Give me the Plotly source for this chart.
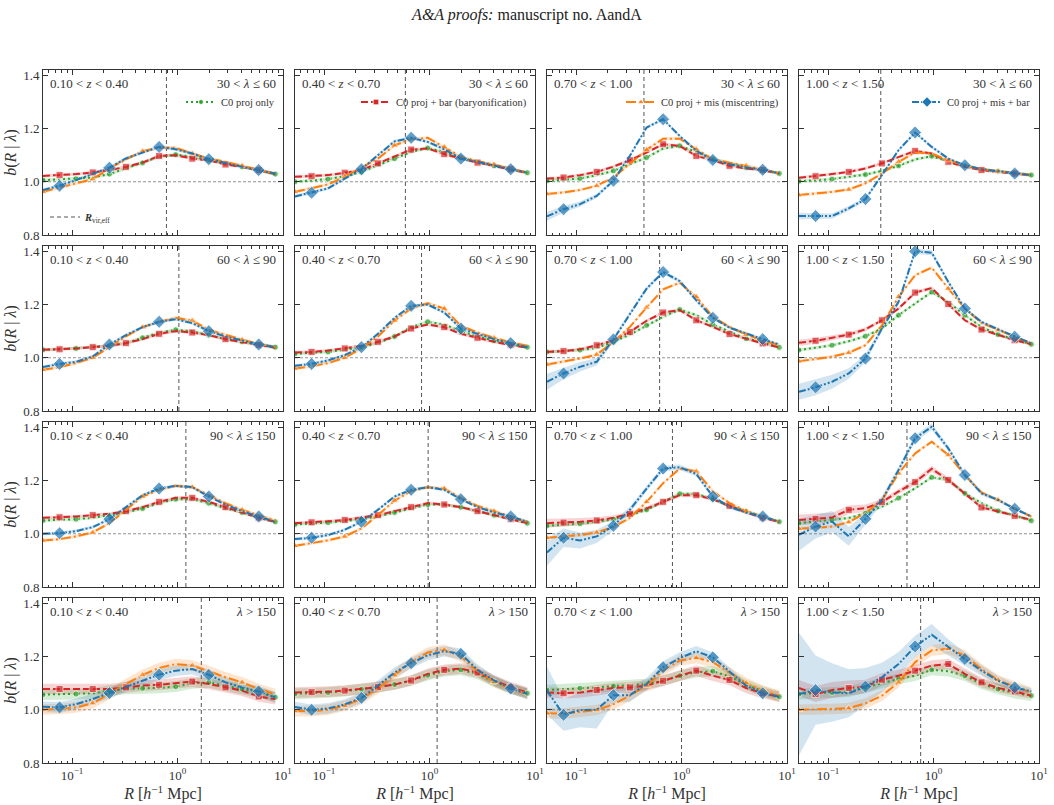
import plotly.graph_objects as go
from plotly.subplots import make_subplots
import math

# ---------------- data ----------------
R = [0.053, 0.0761, 0.109, 0.157, 0.226, 0.324, 0.466, 0.669, 0.961, 1.38, 1.98, 2.85, 4.09, 5.88, 8.45]

z_labels = ["0.10 < <i>z</i> < 0.40", "0.40 < <i>z</i> < 0.70", "0.70 < <i>z</i> < 1.00", "1.00 < <i>z</i> < 1.50"]
lam_labels = ["30 < <i>λ</i> ≤ 60", "60 < <i>λ</i> ≤ 90", "90 < <i>λ</i> ≤ 150", "<i>λ</i> > 150"]

# effective virial radius per (richness row, redshift column)
rvir_row1 = [0.785, 0.59, 0.44, 0.316]
rvir_row2 = [1.03, 0.84, 0.62, 0.40]
rvir_row3 = [1.2, 0.97, 0.82, 0.56]
rvir_row4 = [1.68, 1.18, 1.0, 0.755]

# row 1 (30 < lambda <= 60)
green_11 = [1.006, 1.009, 1.011, 1.016, 1.029, 1.05, 1.071, 1.094, 1.102, 1.094, 1.081, 1.069, 1.056, 1.044, 1.029]
red_11 = [1.022, 1.025, 1.029, 1.035, 1.044, 1.056, 1.072, 1.097, 1.1, 1.087, 1.081, 1.065, 1.056, 1.044, 1.029]
orange_11 = [0.962, 0.977, 0.994, 1.01, 1.05, 1.084, 1.115, 1.128, 1.128, 1.106, 1.087, 1.075, 1.06, 1.044, 1.03]
blue_11 = [0.969, 0.985, 1.006, 1.03, 1.053, 1.088, 1.11, 1.131, 1.122, 1.106, 1.085, 1.07, 1.056, 1.044, 1.03]

green_12 = [1.0, 1.006, 1.01, 1.021, 1.037, 1.062, 1.087, 1.112, 1.127, 1.112, 1.09, 1.075, 1.06, 1.046, 1.034]
red_12 = [1.019, 1.021, 1.025, 1.034, 1.044, 1.069, 1.094, 1.121, 1.125, 1.104, 1.087, 1.072, 1.059, 1.047, 1.034]
orange_12 = [0.962, 0.975, 0.99, 1.019, 1.052, 1.087, 1.137, 1.16, 1.165, 1.131, 1.094, 1.077, 1.065, 1.05, 1.034]
blue_12 = [0.945, 0.959, 0.975, 1.012, 1.047, 1.1, 1.152, 1.165, 1.15, 1.122, 1.087, 1.075, 1.062, 1.047, 1.034]

green_13 = [1.004, 1.007, 1.012, 1.025, 1.041, 1.066, 1.091, 1.125, 1.135, 1.112, 1.085, 1.069, 1.054, 1.045, 1.031]
red_13 = [1.012, 1.016, 1.025, 1.037, 1.057, 1.081, 1.11, 1.141, 1.135, 1.097, 1.081, 1.06, 1.05, 1.044, 1.031]
orange_13 = [0.954, 0.96, 0.969, 0.985, 1.016, 1.066, 1.12, 1.162, 1.162, 1.122, 1.085, 1.072, 1.06, 1.047, 1.032]
blue_13 = [0.87, 0.897, 0.916, 0.947, 1.004, 1.098, 1.204, 1.235, 1.172, 1.116, 1.082, 1.066, 1.054, 1.045, 1.032]

green_14 = [1.002, 1.006, 1.01, 1.019, 1.027, 1.041, 1.06, 1.084, 1.096, 1.077, 1.06, 1.047, 1.04, 1.034, 1.025]
red_14 = [1.015, 1.021, 1.029, 1.037, 1.05, 1.069, 1.094, 1.116, 1.106, 1.075, 1.056, 1.044, 1.037, 1.031, 1.025]
orange_14 = [0.95, 0.956, 0.962, 0.971, 0.994, 1.031, 1.075, 1.11, 1.106, 1.081, 1.062, 1.047, 1.04, 1.031, 1.025]
blue_14 = [0.871, 0.871, 0.871, 0.9, 0.935, 1.025, 1.119, 1.185, 1.131, 1.087, 1.062, 1.047, 1.04, 1.031, 1.025]

# row 2 (60 < lambda <= 90)
green_21 = [1.03, 1.032, 1.035, 1.04, 1.045, 1.055, 1.075, 1.095, 1.105, 1.1, 1.085, 1.07, 1.06, 1.05, 1.04]
red_21 = [1.03, 1.032, 1.035, 1.04, 1.045, 1.055, 1.07, 1.09, 1.1, 1.095, 1.085, 1.07, 1.06, 1.048, 1.038]
orange_21 = [0.955, 0.965, 0.98, 1.0, 1.04, 1.08, 1.115, 1.135, 1.15, 1.14, 1.105, 1.085, 1.068, 1.052, 1.04]
blue_21 = [0.965, 0.977, 0.985, 1.005, 1.05, 1.085, 1.115, 1.135, 1.145, 1.13, 1.1, 1.08, 1.065, 1.05, 1.04]

green_22 = [1.015, 1.018, 1.022, 1.03, 1.04, 1.055, 1.08, 1.115, 1.135, 1.125, 1.1, 1.08, 1.065, 1.05, 1.04]
red_22 = [1.02, 1.022, 1.027, 1.035, 1.045, 1.06, 1.08, 1.11, 1.125, 1.115, 1.09, 1.075, 1.06, 1.048, 1.038]
orange_22 = [0.96, 0.968, 0.98, 1.0, 1.035, 1.08, 1.14, 1.185, 1.205, 1.185, 1.12, 1.095, 1.075, 1.058, 1.045]
blue_22 = [0.97, 0.977, 0.99, 1.01, 1.04, 1.09, 1.15, 1.195, 1.2, 1.17, 1.11, 1.09, 1.07, 1.055, 1.04]

green_23 = [1.022, 1.025, 1.029, 1.037, 1.06, 1.087, 1.122, 1.154, 1.181, 1.16, 1.125, 1.097, 1.072, 1.06, 1.039]
red_23 = [1.022, 1.025, 1.032, 1.047, 1.066, 1.097, 1.139, 1.17, 1.179, 1.141, 1.116, 1.089, 1.072, 1.054, 1.039]
orange_23 = [0.975, 0.985, 0.997, 1.012, 1.06, 1.116, 1.189, 1.257, 1.282, 1.229, 1.154, 1.116, 1.087, 1.066, 1.047]
blue_23 = [0.91, 0.941, 0.966, 0.985, 1.069, 1.166, 1.26, 1.322, 1.288, 1.216, 1.15, 1.113, 1.091, 1.07, 1.05]

green_24 = [1.029, 1.037, 1.047, 1.062, 1.081, 1.11, 1.16, 1.204, 1.247, 1.21, 1.16, 1.116, 1.087, 1.07, 1.051]
red_24 = [1.056, 1.064, 1.075, 1.087, 1.107, 1.141, 1.185, 1.245, 1.262, 1.202, 1.141, 1.106, 1.087, 1.066, 1.051]
orange_24 = [0.987, 0.995, 1.004, 1.019, 1.047, 1.122, 1.229, 1.31, 1.339, 1.26, 1.185, 1.131, 1.104, 1.079, 1.054]
blue_24 = [0.872, 0.889, 0.91, 0.941, 0.997, 1.11, 1.21, 1.40, 1.395, 1.285, 1.185, 1.135, 1.107, 1.079, 1.054]

# row 3 (90 < lambda <= 150)
green_31 = [1.05, 1.052, 1.055, 1.06, 1.07, 1.08, 1.095, 1.115, 1.13, 1.13, 1.115, 1.095, 1.08, 1.06, 1.045]
red_31 = [1.06, 1.062, 1.065, 1.07, 1.075, 1.085, 1.1, 1.12, 1.135, 1.135, 1.12, 1.1, 1.08, 1.06, 1.045]
orange_31 = [0.975, 0.98, 0.99, 1.005, 1.04, 1.09, 1.14, 1.165, 1.18, 1.175, 1.145, 1.115, 1.09, 1.07, 1.05]
blue_31 = [1.0, 1.002, 1.01, 1.025, 1.055, 1.1, 1.145, 1.17, 1.18, 1.175, 1.14, 1.11, 1.085, 1.065, 1.045]

green_32 = [1.035, 1.038, 1.042, 1.048, 1.055, 1.065, 1.08, 1.095, 1.11, 1.11, 1.1, 1.085, 1.07, 1.055, 1.04]
red_32 = [1.04, 1.043, 1.047, 1.052, 1.06, 1.07, 1.085, 1.1, 1.115, 1.11, 1.1, 1.085, 1.07, 1.055, 1.04]
orange_32 = [0.955, 0.965, 0.975, 0.99, 1.02, 1.07, 1.125, 1.16, 1.175, 1.17, 1.135, 1.105, 1.085, 1.065, 1.045]
blue_32 = [0.98, 0.985, 0.995, 1.015, 1.045, 1.09, 1.14, 1.165, 1.175, 1.165, 1.13, 1.1, 1.08, 1.065, 1.045]

green_33 = [1.03, 1.033, 1.038, 1.045, 1.055, 1.07, 1.09, 1.12, 1.15, 1.15, 1.13, 1.105, 1.085, 1.065, 1.045]
red_33 = [1.04, 1.042, 1.045, 1.05, 1.06, 1.075, 1.095, 1.12, 1.145, 1.145, 1.13, 1.105, 1.08, 1.06, 1.045]
orange_33 = [0.985, 0.99, 0.995, 1.005, 1.025, 1.06, 1.12, 1.19, 1.245, 1.235, 1.16, 1.115, 1.085, 1.065, 1.045]
blue_33 = [0.93, 0.985, 0.975, 0.99, 1.03, 1.09, 1.17, 1.245, 1.25, 1.225, 1.14, 1.1, 1.08, 1.065, 1.045]

green_34 = [1.04, 1.046, 1.052, 1.059, 1.077, 1.102, 1.134, 1.171, 1.212, 1.202, 1.152, 1.115, 1.086, 1.069, 1.049]
red_34 = [1.052, 1.056, 1.061, 1.09, 1.096, 1.119, 1.159, 1.194, 1.244, 1.202, 1.152, 1.099, 1.084, 1.067, 1.052]
orange_34 = [1.019, 1.024, 1.027, 1.044, 1.077, 1.127, 1.227, 1.302, 1.346, 1.296, 1.221, 1.155, 1.127, 1.094, 1.065]
blue_34 = [0.996, 1.027, 1.046, 0.99, 1.056, 1.127, 1.24, 1.359, 1.402, 1.321, 1.221, 1.152, 1.127, 1.094, 1.065]

# row 4 (lambda > 150)
green_41 = [1.057, 1.059, 1.059, 1.062, 1.072, 1.078, 1.081, 1.082, 1.087, 1.099, 1.103, 1.091, 1.078, 1.065, 1.047]
red_41 = [1.078, 1.078, 1.078, 1.078, 1.078, 1.084, 1.091, 1.094, 1.099, 1.106, 1.097, 1.084, 1.072, 1.05, 1.04]
orange_41 = [1.001, 1.003, 1.009, 1.025, 1.059, 1.097, 1.131, 1.157, 1.172, 1.166, 1.145, 1.122, 1.103, 1.078, 1.059]
blue_41 = [1.011, 1.009, 1.021, 1.04, 1.063, 1.087, 1.109, 1.132, 1.147, 1.153, 1.131, 1.103, 1.084, 1.069, 1.047]

green_42 = [1.06, 1.062, 1.065, 1.07, 1.077, 1.085, 1.095, 1.11, 1.13, 1.145, 1.15, 1.135, 1.105, 1.08, 1.062]
red_42 = [1.065, 1.066, 1.068, 1.072, 1.078, 1.085, 1.095, 1.11, 1.135, 1.15, 1.155, 1.14, 1.11, 1.085, 1.065]
orange_42 = [0.995, 0.995, 1.0, 1.015, 1.04, 1.08, 1.13, 1.18, 1.215, 1.225, 1.2, 1.145, 1.105, 1.08, 1.06]
blue_42 = [1.01, 1.0, 1.005, 1.02, 1.045, 1.09, 1.14, 1.175, 1.205, 1.22, 1.21, 1.15, 1.11, 1.08, 1.06]

green_43 = [1.074, 1.077, 1.081, 1.084, 1.089, 1.094, 1.097, 1.109, 1.128, 1.141, 1.145, 1.125, 1.094, 1.069, 1.049]
red_43 = [1.065, 1.062, 1.065, 1.074, 1.082, 1.084, 1.091, 1.109, 1.128, 1.147, 1.128, 1.112, 1.082, 1.062, 1.049]
orange_43 = [0.987, 0.986, 0.992, 0.999, 1.021, 1.053, 1.091, 1.147, 1.185, 1.195, 1.179, 1.141, 1.101, 1.072, 1.053]
blue_43 = [1.072, 0.981, 0.999, 1.0, 1.055, 1.055, 1.097, 1.16, 1.194, 1.22, 1.197, 1.145, 1.091, 1.062, 1.049]

green_44 = [1.059, 1.062, 1.065, 1.068, 1.084, 1.099, 1.116, 1.128, 1.15, 1.145, 1.128, 1.097, 1.078, 1.062, 1.053]
red_44 = [1.082, 1.059, 1.074, 1.082, 1.087, 1.113, 1.128, 1.147, 1.166, 1.172, 1.135, 1.103, 1.082, 1.069, 1.053]
orange_44 = [1.0, 1.001, 1.003, 1.006, 1.024, 1.053, 1.103, 1.179, 1.223, 1.229, 1.204, 1.153, 1.112, 1.087, 1.065]
blue_44 = [1.059, 1.074, 1.065, 1.062, 1.087, 1.122, 1.172, 1.238, 1.282, 1.235, 1.191, 1.147, 1.109, 1.084, 1.069]

# half-widths of the shaded uncertainty bands (explicit where visibly wide)
err_thin = 0.006
err_row4 = 0.02
err_13_blue = [0.016, 0.013, 0.01, 0.008, 0.007, 0.006, 0.006, 0.006, 0.006, 0.006, 0.005, 0.005, 0.005, 0.005, 0.005]
err_14_blue = [0.013, 0.011, 0.01, 0.009, 0.008, 0.007, 0.006, 0.006, 0.006, 0.006, 0.005, 0.005, 0.005, 0.005, 0.005]
err_23_blue = [0.03, 0.022, 0.018, 0.014, 0.01, 0.008, 0.008, 0.008, 0.007, 0.007, 0.006, 0.006, 0.005, 0.005, 0.005]
err_24_blue = [0.03, 0.03, 0.026, 0.02, 0.015, 0.01, 0.01, 0.01, 0.01, 0.008, 0.007, 0.006, 0.006, 0.005, 0.005]
err_24_red = [0.012, 0.011, 0.01, 0.009, 0.008, 0.007, 0.007, 0.007, 0.007, 0.006, 0.006, 0.005, 0.005, 0.005, 0.005]
err_33_blue = [0.05, 0.035, 0.03, 0.025, 0.018, 0.012, 0.01, 0.01, 0.01, 0.009, 0.008, 0.007, 0.006, 0.006, 0.005]
err_33_red = [0.016, 0.015, 0.014, 0.012, 0.01, 0.008, 0.008, 0.008, 0.008, 0.007, 0.007, 0.006, 0.006, 0.005, 0.005]
err_34_blue = [0.06, 0.045, 0.04, 0.035, 0.022, 0.015, 0.012, 0.012, 0.012, 0.01, 0.009, 0.008, 0.007, 0.006, 0.006]
err_34_red = [0.02, 0.02, 0.018, 0.016, 0.014, 0.012, 0.01, 0.012, 0.012, 0.01, 0.008, 0.007, 0.006, 0.006, 0.005]
err_43_blue = [0.09, 0.06, 0.065, 0.07, 0.03, 0.025, 0.022, 0.022, 0.022, 0.02, 0.018, 0.015, 0.012, 0.01, 0.008]
err_44_blue = [0.23, 0.13, 0.11, 0.09, 0.07, 0.055, 0.045, 0.04, 0.04, 0.03, 0.025, 0.02, 0.018, 0.015, 0.012]
err_44_red = [0.03, 0.03, 0.03, 0.028, 0.026, 0.024, 0.022, 0.022, 0.02, 0.02, 0.02, 0.018, 0.016, 0.015, 0.012]

# ---------------- assembly ----------------
g = globals()
rvir_rows = [rvir_row1, rvir_row2, rvir_row3, rvir_row4]

SERIES = [
    # key, label, color, dash, symbol, marker size, marker indices
    ("green", "C0 proj only", "#2ca02c", "2px,3px", "circle", 6, [0, 2, 4, 6, 8, 10, 12, 14]),
    ("red", "C0 proj + bar (baryonification)", "#d62728", "7px,3px", "square", 7, [1, 3, 5, 7, 9, 11, 13]),
    ("orange", "C0 proj + mis (miscentring)", "#ff7f0e", "10px,3px,2px,3px", "triangle-up", 7, [0, 3, 6, 9, 12]),
    ("blue", "C0 proj + mis + bar", "#1f77b4", "7px,2px,2px,2px,2px,2px", "diamond", 10, [1, 4, 7, 10, 13]),
]


def rgba(hexc, a):
    h = hexc.lstrip("#")
    return "rgba(%d,%d,%d,%.2f)" % (int(h[0:2], 16), int(h[2:4], 16), int(h[4:6], 16), a)


FONT = "Liberation Serif, Times New Roman, serif"
TXT = "#333333"

fig = make_subplots(rows=4, cols=4, horizontal_spacing=12 / 996, vertical_spacing=11 / 693)

for r in range(1, 5):
    for c in range(1, 5):
        # reference lines
        rv = rvir_rows[r - 1][c - 1]
        fig.add_trace(go.Scatter(x=[rv, rv], y=[0.8, 1.42], mode="lines",
                                 line=dict(color="#555555", width=1, dash="4px,3px"),
                                 name="<b><i>R</i></b><sub>vir,eff</sub>",
                                 legend="legend5", showlegend=(r == 1 and c == 1),
                                 hoverinfo="skip"), row=r, col=c)
        fig.add_trace(go.Scatter(x=[R[0], 10], y=[1.0, 1.0], mode="lines",
                                 line=dict(color="#777777", width=0.8, dash="3px,2px"),
                                 showlegend=False, hoverinfo="skip"), row=r, col=c)
        for key, label, color, dash, sym, msz, midx in SERIES:
            y = g["%s_%d%d" % (key, r, c)]
            ename = "err_%d%d_%s" % (r, c, key)
            if ename in g:
                e = g[ename]
            else:
                e = [err_row4 if r == 4 else err_thin] * len(y)
            lo = [a - b for a, b in zip(y, e)]
            hi = [a + b for a, b in zip(y, e)]
            fig.add_trace(go.Scatter(x=R + R[::-1], y=hi + lo[::-1], fill="toself",
                                     fillcolor=rgba(color, 0.2), line=dict(width=0),
                                     mode="lines", showlegend=False, hoverinfo="skip"),
                          row=r, col=c)
        for key, label, color, dash, sym, msz, midx in SERIES:
            y = g["%s_%d%d" % (key, r, c)]
            sizes = [msz if i in midx else 0 for i in range(len(y))]
            fig.add_trace(go.Scatter(x=R, y=y, mode="lines+markers",
                                     line=dict(color=color, width=2, dash=dash),
                                     marker=dict(symbol=sym, size=sizes, color=color,
                                                 line=dict(color="white", width=0.8)),
                                     showlegend=False, name=label),
                          row=r, col=c)

# legend entries (one per top-row panel)
for k, (key, label, color, dash, sym, msz, midx) in enumerate(SERIES):
    fig.add_trace(go.Scatter(x=[None], y=[None], mode="lines+markers",
                             line=dict(color=color, width=2, dash=dash),
                             marker=dict(symbol=sym, size=msz * 0.8, color=color,
                                         line=dict(color="white", width=0.8)),
                             name=label, legend="legend" if k == 0 else "legend%d" % (k + 1)),
                  row=1, col=k + 1)

# axes
for r in range(1, 5):
    for c in range(1, 5):
        xkw = dict(type="log", range=[math.log10(0.053), 1],
                   tickvals=[0.1, 1, 10],
                   ticktext=["10<sup>−1</sup>", "10<sup>0</sup>", "10<sup>1</sup>"],
                   showticklabels=(r == 4), ticks="inside", ticklen=5, tickcolor=TXT,
                   minor=dict(ticks="inside", ticklen=2.5, dtick="D1", tickcolor=TXT),
                   mirror="allticks", showline=True, linecolor=TXT, linewidth=1,
                   showgrid=False, zeroline=False,
                   tickfont=dict(family=FONT, size=13, color=TXT), automargin=False)
        if r == 4:
            xkw["title"] = dict(text="<i>R</i> [<i>h</i><sup>−1</sup> Mpc]",
                                font=dict(family=FONT, size=16, color=TXT), standoff=4)
        fig.update_xaxes(row=r, col=c, **xkw)
        ykw = dict(range=[0.8, 1.42], tickvals=[0.8, 1.0, 1.2, 1.4],
                   ticktext=["0.8", "1.0", "1.2", "1.4"],
                   showticklabels=(c == 1), ticks="inside", ticklen=5, tickcolor=TXT,
                   mirror="allticks", showline=True, linecolor=TXT, linewidth=1,
                   showgrid=False, zeroline=False,
                   tickfont=dict(family=FONT, size=13, color=TXT), automargin=False)
        if c == 1:
            ykw["title"] = dict(text="<i>b</i>(<i>R</i> | <i>λ</i>)",
                                font=dict(family=FONT, size=16, color=TXT), standoff=2)
        fig.update_yaxes(row=r, col=c, **ykw)

# panel labels
for r in range(1, 5):
    for c in range(1, 5):
        n = (r - 1) * 4 + c
        ax = "" if n == 1 else str(n)
        fig.add_annotation(x=0.02, y=0.975, xref="x%s domain" % ax, yref="y%s domain" % ax,
                           text=z_labels[c - 1], showarrow=False, xanchor="left", yanchor="top",
                           font=dict(family=FONT, size=13, color=TXT))
        fig.add_annotation(x=0.98, y=0.975, xref="x%s domain" % ax, yref="y%s domain" % ax,
                           text=lam_labels[r - 1], showarrow=False, xanchor="right", yanchor="top",
                           font=dict(family=FONT, size=13, color=TXT))

# legends
W, H = 996.0, 693.0
def lx(px):
    return (px - 43) / W
def ly(py):
    return (763 - py) / H

leg_common = dict(bgcolor="rgba(0,0,0,0)", borderwidth=0, itemwidth=30,
                  font=dict(family=FONT, size=10.5, color=TXT),
                  xanchor="right", yanchor="middle", tracegroupgap=0)
col_right = [283, 535, 787, 1039]
fig.update_layout(
    legend=dict(x=lx(col_right[0] - 3), y=ly(102), **leg_common),
    legend2=dict(x=lx(col_right[1] - 3), y=ly(102), **leg_common),
    legend3=dict(x=lx(col_right[2] - 3), y=ly(102), **leg_common),
    legend4=dict(x=lx(col_right[3] - 3), y=ly(102), **leg_common),
    legend5=dict(x=lx(45), y=ly(217), bgcolor="rgba(0,0,0,0)", itemwidth=30,
                 font=dict(family=FONT, size=10.5, color=TXT),
                 xanchor="left", yanchor="middle"),
)

fig.update_layout(
    width=1054, height=805,
    margin=dict(l=43, r=15, t=70, b=42),
    paper_bgcolor="white", plot_bgcolor="white",
    font=dict(family=FONT, color=TXT),
    title=dict(text="<i>A&amp;A proofs:</i> manuscript no. AandA", x=0.5, xanchor="center",
               y=1 - 14 / 805, yanchor="middle", font=dict(family=FONT, size=16, color="#222")),
)

fig.write_html("out.html")
